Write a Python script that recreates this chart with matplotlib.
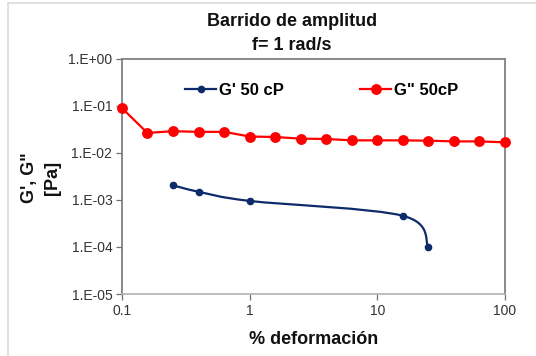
import numpy as np
import matplotlib
matplotlib.use("Agg")
import matplotlib.pyplot as plt
from matplotlib.path import Path
from matplotlib.patches import PathPatch
from matplotlib.lines import Line2D

plt.rcParams['font.family'] = ['Liberation Sans', 'DejaVu Sans']

# data
strain = [0.1, 0.158, 0.251, 0.398, 0.631, 1.0, 1.585, 2.51, 3.98, 6.31,
          10.0, 15.8, 25.1, 39.8, 63.1, 100.0]
g2_50 = [0.089, 0.0265, 0.0288, 0.0279, 0.0279, 0.0222, 0.0217, 0.0200,
         0.0197, 0.0184, 0.0184, 0.0184, 0.0181, 0.0175, 0.0175, 0.0167]
strain_g1 = [0.251, 0.398, 1.0, 15.8, 25.1]
g1_50 = [0.00203, 0.00149, 0.00095, 0.00046, 0.0001]

yticks = [1e-5, 1e-4, 1e-3, 1e-2, 1e-1, 1e0]
ytick_labels = ["1.E-05", "1.E-04", "1.E-03", "1.E-02", "1.E-01", "1.E+00"]
xticks = [0.1, 1, 10, 100]
xtick_labels = ["0.1", "1", "10", "100"]

BLUE = '#0d2b6b'
RED = '#ff0000'
W, H = 536, 356


def smooth_path(x, y):
    # excel-like smoothed line: catmull-rom bezier in log space
    p = np.column_stack([np.log10(x), np.log10(y)])
    pe = np.vstack([p[0], p, p[-1]])
    verts = [p[0]]
    codes = [Path.MOVETO]
    for i in range(len(p) - 1):
        p0, p1, p2, p3 = pe[i], pe[i + 1], pe[i + 2], pe[i + 3]
        verts += [p1 + (p2 - p0) / 6, p2 - (p3 - p1) / 6, p2]
        codes += [Path.CURVE4] * 3
    return Path(10 ** np.array(verts), codes)


fig = plt.figure(figsize=(W / 100, H / 100), dpi=100)
ax = fig.add_axes([122 / W, 1 - 294 / H, (505 - 122) / W, (294 - 58.7) / H])

ax.set_xscale('log')
ax.set_yscale('log')
ax.set_xlim(0.1, 100)
ax.set_ylim(1e-5, 1)

ax.add_patch(PathPatch(smooth_path(strain_g1, g1_50), facecolor='none',
                       edgecolor=BLUE, lw=1.6, zorder=3))
ax.plot(strain_g1, g1_50, ls='none', marker='o', ms=4.5, color=BLUE, zorder=4)
ax.plot(strain, g2_50, '-o', color=RED, lw=1.6, ms=6.8, zorder=4, clip_on=False)

ax.minorticks_off()
ax.set_xticks(xticks)
ax.set_xticklabels(xtick_labels)
ax.set_yticks(yticks)
ax.set_yticklabels(ytick_labels)
ax.tick_params(direction='out', length=4, width=0.9, color='#707070',
               labelsize=10, labelcolor='#333333', pad=3)

for s in ['left', 'top', 'right']:
    ax.spines[s].set_color('#808080')
    ax.spines[s].set_linewidth(1.3)
ax.spines['bottom'].set_color('#b0b0b0')
ax.spines['bottom'].set_linewidth(1.2)

handles = [Line2D([], [], color=BLUE, lw=1.6, marker='o', ms=4.5),
           Line2D([], [], color=RED, lw=1.6, marker='o', ms=6.8)]
ax.legend(handles, ["G' 50 cP", 'G" 50cP'], ncol=2, frameon=False,
          loc='center left', bbox_to_anchor=(177 / W, 1 - 90.7 / H),
          bbox_transform=fig.transFigure, handlelength=1.85,
          handletextpad=0.15, columnspacing=4.6, borderpad=0,
          prop={'weight': 'bold', 'size': 12})

fig.text(292 / W, 1 - 22 / H, "Barrido de amplitud", ha='center', va='center',
         fontsize=13, fontweight='bold', color='#111111')
fig.text(292 / W, 1 - 45 / H, "f= 1 rad/s", ha='center', va='center',
         fontsize=13, fontweight='bold', color='#111111')
fig.text(41 / W, 1 - 178 / H, "G', G\"\n[Pa]", ha='center', va='center',
         rotation=90, multialignment='center', fontsize=13,
         fontweight='bold', color='#111111', linespacing=1.45)
fig.text(313.5 / W, 1 - 340 / H, "% deformación", ha='center', va='center',
         fontsize=13, fontweight='bold', color='#111111')

# light chart-area border on top and left
fig.add_artist(Line2D([8 / W, 1], [1 - 3 / H, 1 - 3 / H], color='#dcdcdc', lw=1.2))
fig.add_artist(Line2D([8 / W, 8 / W], [0, 1 - 3 / H], color='#dcdcdc', lw=1.2))

fig.savefig("out.png", dpi=100)
